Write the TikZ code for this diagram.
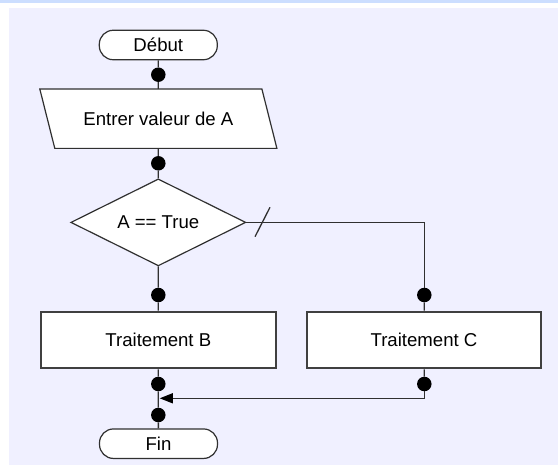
\documentclass[tikz,border=0pt]{standalone}
\usepackage{fontspec}
\setmainfont{Liberation Sans}
\usetikzlibrary{shapes.geometric,arrows.meta,calc,backgrounds}
\definecolor{bandblue}{RGB}{204,222,255}
\definecolor{lav}{RGB}{240,240,255}
\definecolor{ln}{RGB}{48,48,48}
\definecolor{boxln}{RGB}{64,64,64}
\begin{document}
\begin{tikzpicture}[x=1pt,y=-1pt,
  every node/.style={font=\fontsize{18.6}{22}\selectfont},
  term/.style={draw=ln,line width=1.2pt,fill=white,rounded corners=14pt,minimum width=118pt,minimum height=29.5pt,inner sep=0pt},
  procbox/.style={draw=boxln,line width=2pt,fill=white,minimum width=234.5pt,minimum height=56.6pt,inner sep=0pt},
  iobox/.style={draw=none,minimum width=221.7pt,minimum height=59pt,inner sep=0pt},
  decis/.style={diamond,aspect=2,draw=ln,line width=1.2pt,fill=white,minimum width=175pt,minimum height=87pt,inner sep=0pt},
  dot/.style={circle,fill=black,inner sep=0pt,minimum size=14.5pt},
  conn/.style={draw=ln,line width=1.3pt},
  shapeline/.style={draw=ln,line width=1.2pt,fill=white},
  headtip/.tip={Triangle[length=13pt,width=10pt,fill=black,color=black]}]
\useasboundingbox (0,0) rectangle (558,465);
\begin{scope}[on background layer]
  \fill[bandblue] (0,0) rectangle (558,3);
  \fill[lav] (8.5,8.5) rectangle (558,465);
\end{scope}
% shapes
\node[term] (deb) at (158.3,45) {Début};
\node[iobox] (in) at (158.35,118.7) {Entrer valeur de A};
\node[decis] (dia) at (158.3,222.4) {A == True};
\node[procbox] (B) at (158.35,340) {Traitement B};
\node[procbox] (C) at (424,340) {Traitement C};
\node[term] (fin) at (158.5,443.7) {Fin};
\begin{scope}[on background layer]
  \draw[shapeline] ($(in.north west)+(-7.5,0)$) -- ($(in.north east)+(-7.5,0)$)
    -- ($(in.south east)+(7.5,0)$) -- ($(in.south west)+(7.5,0)$) -- cycle;
\end{scope}
% dots
\node[dot] (d1) at (158.3,74.7) {};
\node[dot] (d2) at (158.3,163.3) {};
\node[dot] (dB1) at (158.3,295) {};
\node[dot] (dC1) at (424.3,295) {};
\node[dot] (dB2) at (158.3,384) {};
\node[dot] (dC2) at (424.3,384) {};
\node[dot] (dm) at (158.3,415) {};
\coordinate (m) at (159.8,398.3);
\coordinate (tk) at (262.5,222);
% connectors
\draw[conn] (deb) -- (d1) -- (in);
\draw[conn] (in) -- (d2) -- (dia);
\draw[conn] (dia) -- (dB1) -- (B);
\draw[conn] (dia.east) -| (dC1);
\draw[conn] (dC1) -- (C);
\draw[conn] (B) -- (dB2) -- (dm) -- (fin);
\draw[conn] (C) -- (dC2);
\draw[conn,-headtip] (dC2) |- (m);
\draw[conn] ($(tk)+(-7.5,14.7)$) -- ($(tk)+(7.5,-14.7)$);
\end{tikzpicture}
\end{document}
